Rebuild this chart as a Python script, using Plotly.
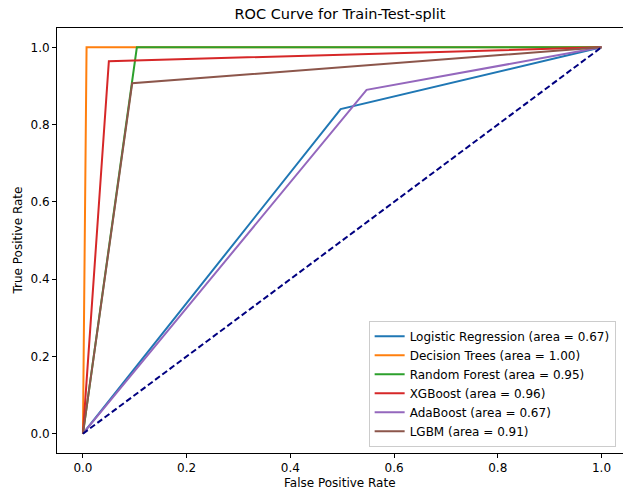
import plotly.graph_objects as go

# ROC curve data
model_names = ["Logistic Regression", "Decision Trees", "Random Forest", "XGBoost", "AdaBoost", "LGBM"]
auc_values = [0.67, 1.00, 0.95, 0.96, 0.67, 0.91]
fpr_lr = [0.0, 0.497, 1.0]
tpr_lr = [0.0, 0.840, 1.0]
fpr_dt = [0.0, 0.007, 1.0]
tpr_dt = [0.0, 1.0, 1.0]
fpr_rf = [0.0, 0.104, 1.0]
tpr_rf = [0.0, 1.0, 1.0]
fpr_xgb = [0.0, 0.050, 1.0]
tpr_xgb = [0.0, 0.964, 1.0]
fpr_ada = [0.0, 0.547, 1.0]
tpr_ada = [0.0, 0.890, 1.0]
fpr_lgbm = [0.0, 0.095, 1.0]
tpr_lgbm = [0.0, 0.907, 1.0]
diag_x = [0.0, 1.0]
diag_y = [0.0, 1.0]
tick_vals = [0.0, 0.2, 0.4, 0.6, 0.8, 1.0]
tick_text = ["0.0", "0.2", "0.4", "0.6", "0.8", "1.0"]

colors = ["#1f77b4", "#ff7f0e", "#2ca02c", "#d62728", "#9467bd", "#8c564b"]
curves = [(fpr_lr, tpr_lr), (fpr_dt, tpr_dt), (fpr_rf, tpr_rf),
          (fpr_xgb, tpr_xgb), (fpr_ada, tpr_ada), (fpr_lgbm, tpr_lgbm)]

FONT = "DejaVu Sans"
W, H = 623, 493
ML, MR, MT, MB = 57, 0, 28, 40

fig = go.Figure()
for name, auc, (fx, ty), c in zip(model_names, auc_values, curves, colors):
    fig.add_trace(go.Scatter(x=fx, y=ty, mode="lines",
                             name=f"{name} (area = {auc:.2f})",
                             line=dict(color=c, width=2)))
fig.add_trace(go.Scatter(x=diag_x, y=diag_y, mode="lines", showlegend=False,
                         line=dict(color="navy", width=2, dash="6px,3px")))

axis_common = dict(
    showgrid=False, zeroline=False, showline=True, linecolor="black", linewidth=1,
    ticks="outside", ticklen=4, tickwidth=1, tickcolor="black",
    tickvals=tick_vals, ticktext=tick_text, automargin=False,
    tickfont=dict(family=FONT, size=12, color="black"),
)
fig.update_layout(
    width=W, height=H,
    margin=dict(l=ML, r=MR, t=MT, b=MB, autoexpand=False),
    paper_bgcolor="white", plot_bgcolor="white",
    font=dict(family=FONT, size=12, color="black"),
    title=dict(text="ROC Curve for Train-Test-split", x=0.5, xref="paper", xanchor="center",
               y=1 - 13.5 / H, yref="container", yanchor="middle",
               font=dict(family=FONT, size=14.5, color="black")),
    xaxis=dict(range=[-0.05, 1.0415], mirror=True, **axis_common),
    yaxis=dict(range=[-0.05, 1.05], **axis_common),
    legend=dict(x=0.987, y=0.015, xanchor="right", yanchor="bottom",
                bgcolor="rgba(255,255,255,0.8)", bordercolor="#cccccc", borderwidth=1,
                font=dict(family=FONT, size=12, color="black"),
                tracegroupgap=0),
    showlegend=True,
    annotations=[
        dict(text="False Positive Rate", xref="paper", yref="paper",
             x=0.5, y=-(483 - (H - MB)) / (H - MT - MB), xanchor="center", yanchor="middle",
             showarrow=False, font=dict(family=FONT, size=12, color="black")),
        dict(text="True Positive Rate", xref="paper", yref="paper",
             x=-(ML - 17) / (W - ML - MR), y=0.5, xanchor="center", yanchor="middle",
             textangle=-90, showarrow=False, font=dict(family=FONT, size=12, color="black")),
    ],
)
fig.write_html("out.html", config={"displayModeBar": False},
               post_script="document.body.style.margin='0';document.body.style.overflow='hidden';")
